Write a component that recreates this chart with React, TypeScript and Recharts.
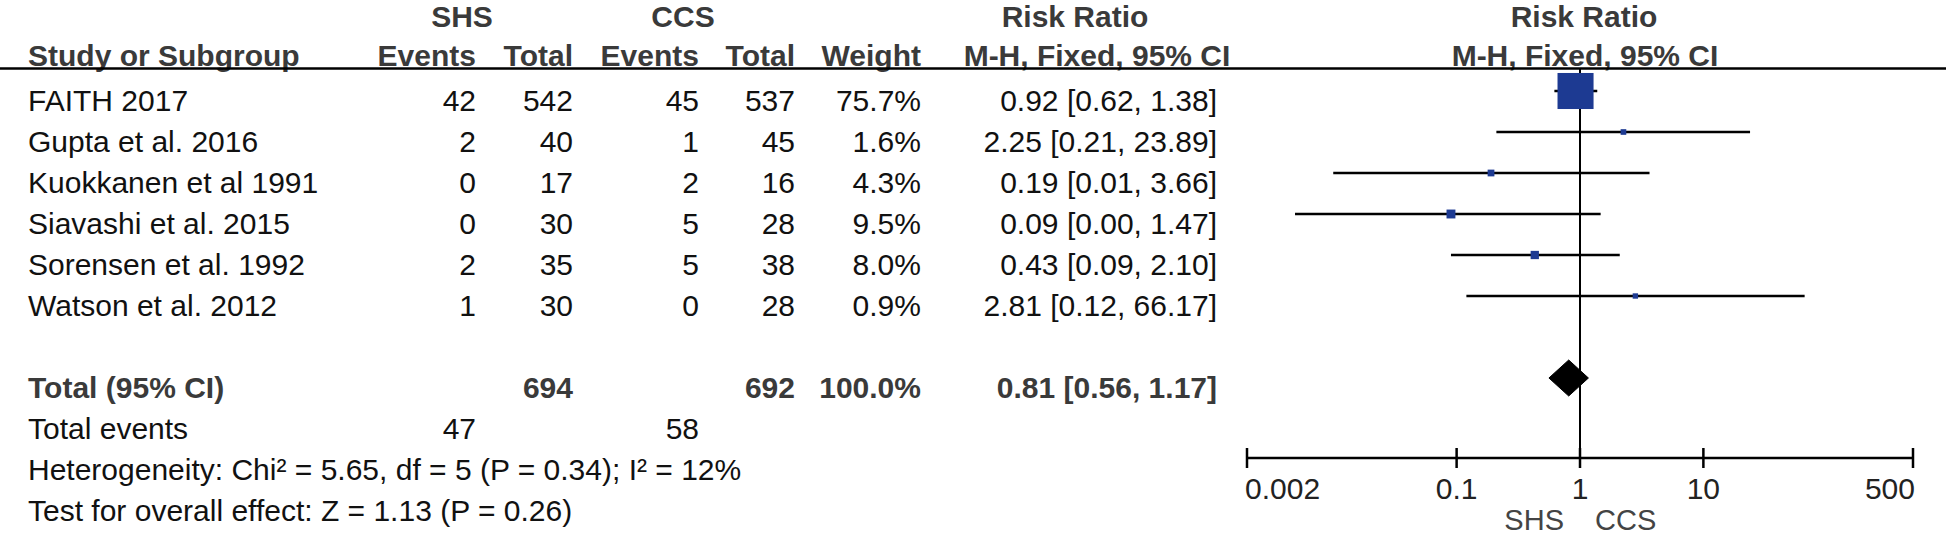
import React from "react";
import {
  ComposedChart,
  XAxis,
  YAxis,
  Scatter,
  ErrorBar,
  Area,
  ReferenceLine,
  Customized,
} from "recharts";

// study rows
const studies = [
  "FAITH 2017",
  "Gupta et al. 2016",
  "Kuokkanen et al 1991",
  "Siavashi et al. 2015",
  "Sorensen et al. 1992",
  "Watson et al. 2012",
];
const shsEvents = [42, 2, 0, 0, 2, 1];
const shsTotal = [542, 40, 17, 30, 35, 30];
const ccsEvents = [45, 1, 2, 5, 5, 0];
const ccsTotal = [537, 45, 16, 28, 38, 28];
const weights = [75.7, 1.6, 4.3, 9.5, 8.0, 0.9];
const riskRatio = [0.92, 2.25, 0.19, 0.09, 0.43, 2.81];
const ciLow = [0.62, 0.21, 0.01, 0.0049, 0.09, 0.12];
const ciHigh = [1.38, 23.89, 3.66, 1.47, 2.1, 66.17];

// pooled
const totalShs = 694;
const totalCcs = 692;
const totalWeight = 100.0;
const pooled = { rr: 0.81, lo: 0.56, hi: 1.17 };
const totalEventsShs = 47;
const totalEventsCcs = 58;
const heterogeneityText = "Heterogeneity: Chi\u00b2 = 5.65, df = 5 (P = 0.34); I\u00b2 = 12%";
const overallText = "Test for overall effect: Z = 1.13 (P = 0.26)";

const xTicks = [0.002, 0.1, 1, 10, 500];

// layout
const W = 1946;
const H = 539;
const FONT = "'Liberation Sans', Arial, Helvetica, sans-serif";
const FS = 30;
const HEAD = "#3a3a3a";
const INK = "#111";
const BLUE = "#1d3a92";
const PLOT_LEFT = 1247;
const PLOT_RIGHT = 1913;
const PLOT_TOP = 68;
const PLOT_BOTTOM = 458;
const ROW_PX = 41;
const FIRST_MARK = 91;
const BASE_OFFSET = 20;
const TOTAL_ROW = 7;
const DIAMOND_HALF = 18 / ROW_PX;

const yMin = -(FIRST_MARK - PLOT_TOP) / ROW_PX;
const yMax = yMin + (PLOT_BOTTOM - PLOT_TOP) / ROW_PX;
const baseline = (row: number) => FIRST_MARK + BASE_OFFSET + row * ROW_PX;

const fmt = (v: number) => v.toFixed(2);

const studyPoints = studies.map((name, i) => ({
  name,
  x: riskRatio[i],
  y: i,
  weight: weights[i],
  err: [riskRatio[i] - ciLow[i], ciHigh[i] - riskRatio[i]],
}));

const diamondData = [
  { x: pooled.lo, band: [TOTAL_ROW, TOTAL_ROW] },
  { x: pooled.rr, band: [TOTAL_ROW - DIAMOND_HALF, TOTAL_ROW + DIAMOND_HALF] },
  { x: pooled.hi, band: [TOTAL_ROW, TOTAL_ROW] },
];

// column anchors (right aligned unless noted)
const COL = {
  label: 28,
  shsEv: 476,
  shsTot: 573,
  ccsEv: 699,
  ccsTot: 795,
  weight: 921,
  rr: 1217,
};

function T({
  x,
  y,
  anchor = "start",
  bold = false,
  fill = INK,
  size = FS,
  children,
}: {
  x: number;
  y: number;
  anchor?: "start" | "middle" | "end";
  bold?: boolean;
  fill?: string;
  size?: number;
  children: React.ReactNode;
}) {
  return (
    <text
      x={x}
      y={y}
      textAnchor={anchor}
      fontFamily={FONT}
      fontSize={size}
      fontWeight={bold ? 700 : 400}
      fill={fill}
    >
      {children}
    </text>
  );
}

function TableText() {
  return (
    <g>
      {/* header */}
      <T x={462} y={27} anchor="middle" bold fill={HEAD}>SHS</T>
      <T x={683} y={27} anchor="middle" bold fill={HEAD}>CCS</T>
      <T x={1075} y={27} anchor="middle" bold fill={HEAD}>Risk Ratio</T>
      <T x={1584} y={27} anchor="middle" bold fill={HEAD}>Risk Ratio</T>
      <T x={COL.label} y={66} bold fill={HEAD}>Study or Subgroup</T>
      <T x={COL.shsEv} y={66} anchor="end" bold fill={HEAD}>Events</T>
      <T x={COL.shsTot} y={66} anchor="end" bold fill={HEAD}>Total</T>
      <T x={COL.ccsEv} y={66} anchor="end" bold fill={HEAD}>Events</T>
      <T x={COL.ccsTot} y={66} anchor="end" bold fill={HEAD}>Total</T>
      <T x={COL.weight} y={66} anchor="end" bold fill={HEAD}>Weight</T>
      <T x={1097} y={66} anchor="middle" bold fill={HEAD}>M-H, Fixed, 95% CI</T>
      <T x={1585} y={66} anchor="middle" bold fill={HEAD}>M-H, Fixed, 95% CI</T>
      <line x1={0} x2={W} y1={68.5} y2={68.5} stroke="#000" strokeWidth={2.5} />

      {/* study rows */}
      {studies.map((s, i) => {
        const y = baseline(i);
        return (
          <g key={s}>
            <T x={COL.label} y={y}>{s}</T>
            <T x={COL.shsEv} y={y} anchor="end">{shsEvents[i]}</T>
            <T x={COL.shsTot} y={y} anchor="end">{shsTotal[i]}</T>
            <T x={COL.ccsEv} y={y} anchor="end">{ccsEvents[i]}</T>
            <T x={COL.ccsTot} y={y} anchor="end">{ccsTotal[i]}</T>
            <T x={COL.weight} y={y} anchor="end">{weights[i].toFixed(1)}%</T>
            <T x={COL.rr} y={y} anchor="end">
              {`${fmt(riskRatio[i])} [${fmt(ciLow[i])}, ${fmt(ciHigh[i])}]`}
            </T>
          </g>
        );
      })}

      {/* totals */}
      <T x={COL.label} y={baseline(TOTAL_ROW)} bold fill={HEAD}>Total (95% CI)</T>
      <T x={COL.shsTot} y={baseline(TOTAL_ROW)} anchor="end" bold fill={HEAD}>{totalShs}</T>
      <T x={COL.ccsTot} y={baseline(TOTAL_ROW)} anchor="end" bold fill={HEAD}>{totalCcs}</T>
      <T x={COL.weight} y={baseline(TOTAL_ROW)} anchor="end" bold fill={HEAD}>{totalWeight.toFixed(1)}%</T>
      <T x={COL.rr} y={baseline(TOTAL_ROW)} anchor="end" bold fill={HEAD}>
        {`${fmt(pooled.rr)} [${fmt(pooled.lo)}, ${fmt(pooled.hi)}]`}
      </T>
      <T x={COL.label} y={baseline(8)}>Total events</T>
      <T x={COL.shsEv} y={baseline(8)} anchor="end">{totalEventsShs}</T>
      <T x={COL.ccsEv} y={baseline(8)} anchor="end">{totalEventsCcs}</T>
      <T x={COL.label} y={baseline(9)}>{heterogeneityText}</T>
      <T x={COL.label} y={baseline(10)}>{overallText}</T>

      {/* favours labels */}
      <T x={1564} y={530} anchor="end" fill="#444" size={29}>SHS</T>
      <T x={1595} y={530} fill="#444" size={29}>CCS</T>
    </g>
  );
}

function AxisTick(props: any) {
  const { x, y, payload } = props;
  const v = payload.value as number;
  const first = v === xTicks[0];
  const last = v === xTicks[xTicks.length - 1];
  const anchor = first ? "start" : last ? "end" : "middle";
  return (
    <g>
      <line x1={x} x2={x} y1={y - 10} y2={y + 10} stroke="#000" strokeWidth={2.5} />
      <text
        x={first ? x - 2 : last ? x + 2 : x}
        y={y + 41}
        textAnchor={anchor}
        fontFamily={FONT}
        fontSize={FS}
        fill="#222"
      >
        {String(v)}
      </text>
    </g>
  );
}

export default function App() {
  return (
    <div style={{ position: "absolute", left: 0, top: 0, width: W, height: H, background: "#fff" }}>
      <ComposedChart
        width={W}
        height={H}
        margin={{ top: PLOT_TOP, right: W - PLOT_RIGHT, bottom: 0, left: PLOT_LEFT }}
      >
        <XAxis
          type="number"
          dataKey="x"
          scale="log"
          domain={[xTicks[0], xTicks[xTicks.length - 1]]}
          ticks={xTicks}
          interval={0}
          allowDataOverflow
          height={H - PLOT_BOTTOM}
          axisLine={{ stroke: "#000", strokeWidth: 2.5 }}
          tickLine={false}
          tickSize={0}
          tickMargin={0}
          tick={<AxisTick />}
        />
        <YAxis type="number" dataKey="y" domain={[yMin, yMax]} reversed hide allowDataOverflow />
        <ReferenceLine x={1} stroke="#000" strokeWidth={2} />
        <Scatter
          data={studyPoints}
          isAnimationActive={false}
          shape={(p: any) => {
            const s = 5 + 0.41 * p.payload.weight;
            return <rect x={p.cx - s / 2} y={p.cy - s / 2} width={s} height={s} fill={BLUE} />;
          }}
        >
          <ErrorBar
            dataKey="err"
            direction="x"
            width={0}
            stroke="#000"
            strokeWidth={2.5}
            isAnimationActive={false}
          />
        </Scatter>
        <Area
          data={diamondData}
          dataKey="band"
          type="linear"
          stroke="#000"
          strokeWidth={1}
          fill="#000"
          fillOpacity={1}
          dot={false}
          activeDot={false}
          isAnimationActive={false}
        />
        <Customized component={TableText} />
      </ComposedChart>
    </div>
  );
}
